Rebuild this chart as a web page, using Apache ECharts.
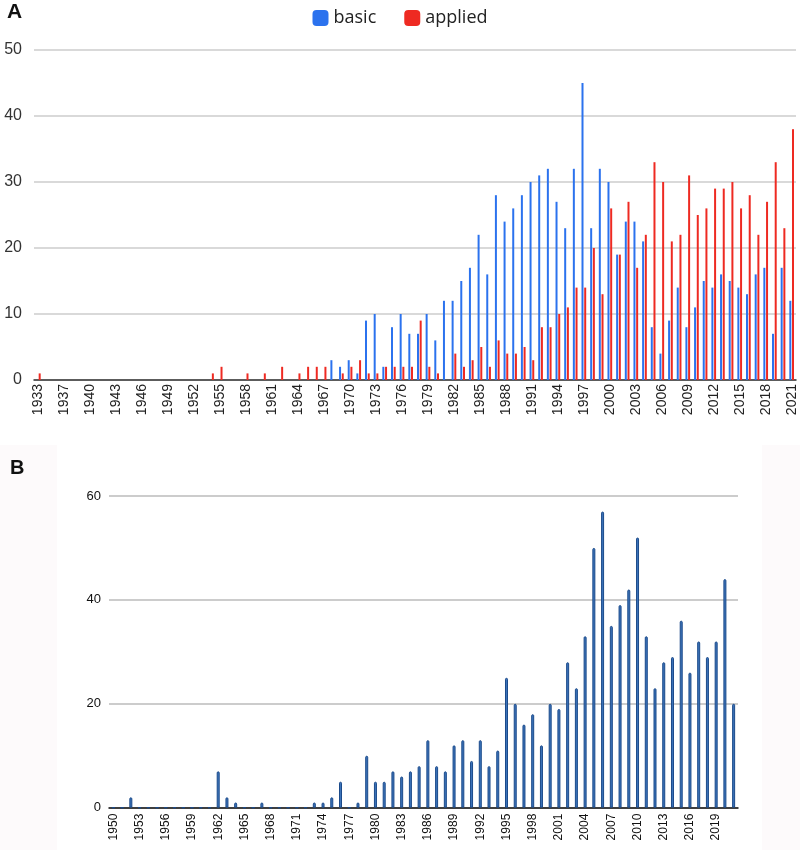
<!DOCTYPE html>
<html>
<head>
<meta charset="utf-8">
<script src="https://cdn.jsdelivr.net/npm/echarts@6/dist/echarts.min.js"></script>
<style>
html,body{margin:0;padding:0;background:#fff;}
#chart{width:800px;height:850px;}
</style>
</head>
<body>
<div id="chart"></div>
<script>
// ---------- Panel A ----------
var yearsA = ['1933','1935','1936','1937','1938','1939','1940','1941','1942','1943','1944','1945','1946','1947','1948','1949',
'1950','1951','1952','1953','1954','1955','1956','1957','1958','1959','1960','1961','1962','1963','1964','1965','1966','1967',
'1968','1969','1970','1971','1972','1973','1974','1975','1976','1977','1978','1979','1980','1981','1982','1983','1984','1985',
'1986','1987','1988','1989','1990','1991','1992','1993','1994','1995','1996','1997','1998','1999','2000','2001','2002','2003',
'2004','2005','2006','2007','2008','2009','2010','2011','2012','2013','2014','2015','2016','2017','2018','2019','2020','2021'];

// 1933..1967 (34 categories) have no basic entries
var basic = [0,0,0,0,0,0,0,0,0,0,0,0,0,0,0,0,
0,0,0,0,0,0,0,0,0,0,0,0,0,0,0,0,0,0,
3,2,3,1,9,10,2,8,10,7,7,10,6,12,12,15,17,22,
16,28,24,26,28,30,31,32,27,23,32,45,23,32,30,19,24,24,
21,8,4,9,14,8,11,15,14,16,15,14,13,16,17,7,17,12];

var applied = [1,0,0,0,0,0,0,0,0,0,0,0,0,0,0,0,
0,0,0,0,1,2,0,0,1,0,1,0,2,0,1,2,2,2,
0,1,2,3,1,1,2,2,2,2,9,2,1,0,4,2,3,5,
2,6,4,4,5,3,8,8,10,11,14,14,20,13,26,19,27,17,
22,33,30,21,22,31,25,26,29,29,30,26,28,22,27,33,23,38];

var yTicksA = [0,10,20,30,40,50];

// ---------- Panel B ----------
var yearsB = ['1950','1951','1952','1953','1954','1955','1956','1957','1958','1959','1960','1961','1962','1963','1964','1965',
'1966','1967','1968','1969','1970','1971','1972','1973','1974','1975','1976','1977','1978','1979','1980','1981','1982','1983',
'1984','1985','1986','1987','1988','1989','1990','1991','1992','1993','1994','1995','1996','1997','1998','1999','2000','2001',
'2002','2003','2004','2005','2006','2007','2008','2009','2010','2011','2012','2013','2014','2015','2016','2017','2018','2019',
'2020','2021'];

var countsB = [0,0,2,0,0,0,0,0,0,0,0,0,7,2,1,0,
0,1,0,0,0,0,0,1,1,2,5,0,1,10,5,5,7,6,
7,8,13,8,7,12,13,9,13,8,11,25,20,16,18,12,20,19,
28,23,33,50,57,35,39,42,52,33,23,28,29,36,26,32,29,32,
44,20];

var yTicksB = [0,20,40,60];

var chart = echarts.init(document.getElementById('chart'), null, {renderer:'canvas'});

var fontA = 'Arial, "Liberation Sans", sans-serif';

chart.setOption({
  backgroundColor: '#ffffff',
  animation: false,
  graphic: [
    {type:'rect', shape:{x:0,y:445,width:800,height:405}, style:{fill:'#fdfafb'}, silent:true, z:-10},
    {type:'rect', shape:{x:57,y:445,width:705,height:405}, style:{fill:'#ffffff'}, silent:true, z:-9}
  ],
  title: [
    {text:'A', left:7, top:2, padding:0, textStyle:{fontSize:21, fontWeight:'bold', color:'#111', fontFamily:fontA}},
    {text:'B', left:10, top:458, padding:0, textStyle:{fontSize:20, fontWeight:'bold', color:'#111', fontFamily:fontA}}
  ],
  legend: {
    data: ['basic','applied'],
    top: 4,
    left: 'center',
    itemWidth: 16,
    itemHeight: 16,
    itemGap: 28,
    icon: 'roundRect',
    textStyle: {fontSize: 18, color:'#222', fontFamily:'"Open Sans", Arial, sans-serif'}
  },
  grid: [
    {left:34, top:50, width:762, height:330, containLabel:false},
    {left:109, top:496, width:629, height:311.7, containLabel:false}
  ],
  xAxis: [
    {
      type:'category', gridIndex:0, data: yearsA,
      axisTick:{show:false},
      axisLine:{show:true, lineStyle:{color:'#333', width:1.5}},
      axisLabel:{interval:2, rotate:90, margin:4, fontSize:14, color:'#222', fontFamily:fontA}
    },
    {
      type:'category', gridIndex:1, data: yearsB,
      axisTick:{show:false},
      axisLine:{show:true, lineStyle:{color:'#111', width:1.5}},
      axisLabel:{interval:2, rotate:90, margin:6, fontSize:12, color:'#111', fontFamily:fontA}
    }
  ],
  yAxis: [
    {
      type:'value', gridIndex:0, min:yTicksA[0], max:yTicksA[yTicksA.length-1], interval:10,
      axisLine:{show:false}, axisTick:{show:false},
      splitLine:{show:true, lineStyle:{color:'#cccccc', width:1.5}},
      axisLabel:{margin:12, fontSize:16, color:'#333', fontFamily:fontA}
    },
    {
      type:'value', gridIndex:1, min:yTicksB[0], max:yTicksB[yTicksB.length-1], interval:20,
      axisLine:{show:false}, axisTick:{show:false},
      splitLine:{show:true, lineStyle:{color:'#bbbbbb', width:1.5}},
      axisLabel:{margin:8, fontSize:13, color:'#111', fontFamily:fontA}
    }
  ],
  series: [
    {
      name:'basic', type:'bar', xAxisIndex:0, yAxisIndex:0, data: basic,
      barWidth:2, barGap:'35%',
      itemStyle:{color:'#2b72ee'}
    },
    {
      name:'applied', type:'bar', xAxisIndex:0, yAxisIndex:0, data: applied,
      barWidth:2, barGap:'35%',
      itemStyle:{color:'#ee2a22'}
    },
    {
      name:'B', type:'bar', xAxisIndex:1, yAxisIndex:1, data: countsB,
      barWidth:3,
      itemStyle:{color:'#3d74ba', borderColor:'#1b4a8a', borderWidth:1, borderRadius:[2,2,0,0]}
    }
  ]
});
</script>
</body>
</html>
